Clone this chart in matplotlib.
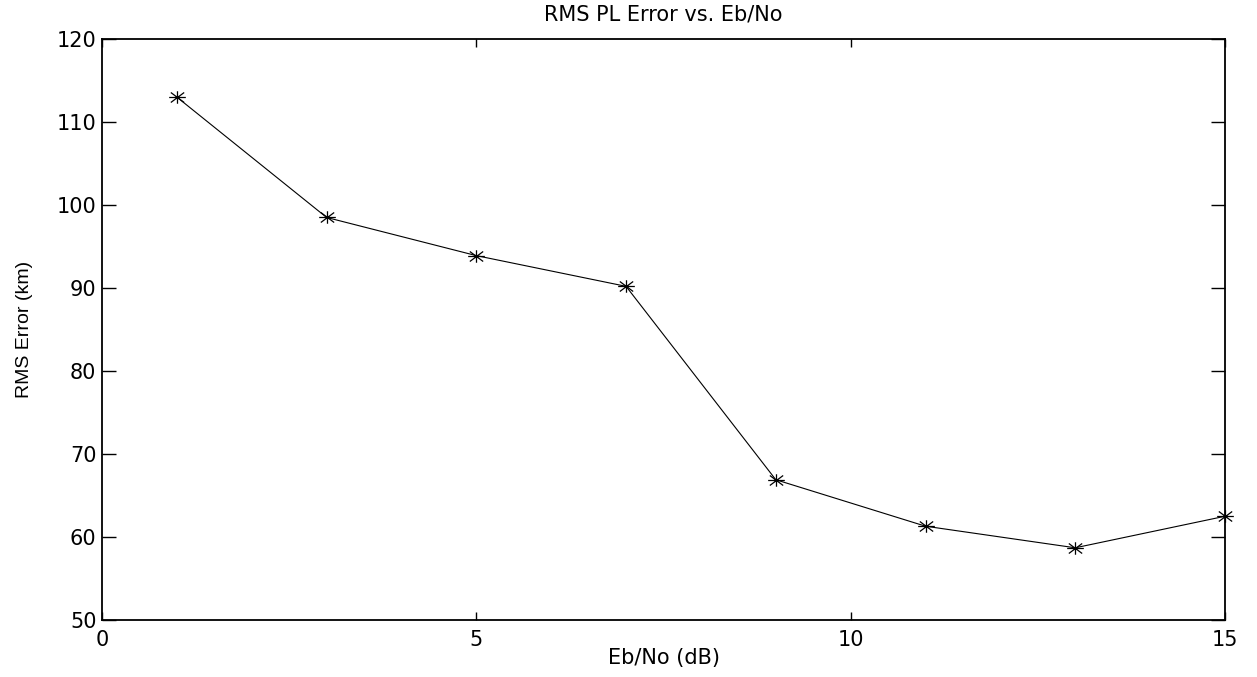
import numpy as np
import matplotlib.pyplot as plt
from matplotlib.path import Path

# Data
eb_no = [1, 3, 5, 7, 9, 11, 13, 15]
rms_err = [113.0, 98.5, 93.9, 90.2, 66.9, 61.3, 58.7, 62.5]

x_ticks = [0, 5, 10, 15]
y_ticks = [50, 60, 70, 80, 90, 100, 110, 120]

# MATLAB-like '*' marker (plus + x), a little wider than tall
w, h = 1.0, 0.75
star = Path([(-w, 0), (w, 0), (0, -h), (0, h), (-w * 0.8, -h * 0.8), (w * 0.8, h * 0.8),
             (-w * 0.8, h * 0.8), (w * 0.8, -h * 0.8)],
            [Path.MOVETO, Path.LINETO] * 4)

fig = plt.figure(figsize=(12.57, 6.77), dpi=100)
ax = fig.add_axes([102 / 1257, 1 - 620 / 677, (1225 - 102) / 1257, (620 - 39) / 677])

ax.plot(eb_no, rms_err, color='black', linewidth=0.8, marker=star, markersize=12,
        markeredgewidth=0.9, clip_on=False)

ax.set_xlim(0, 15)
ax.set_ylim(50, 120)
ax.set_xticks(x_ticks)
ax.set_yticks(y_ticks)
ax.tick_params(axis='x', direction='in', length=6, width=1.0, top=True,
               labelsize=15, pad=7)
ax.tick_params(axis='y', direction='in', length=10, width=1.0, right=True,
               labelsize=15, pad=4)
for lab in ax.get_xticklabels() + ax.get_yticklabels():
    lab.set_family('DejaVu Sans')
for s in ax.spines.values():
    s.set_linewidth(1.3)

ax.set_title("RMS PL Error vs. Eb/No", fontsize=15, family='DejaVu Sans', pad=13)
ax.set_xlabel("Eb/No (dB)", fontsize=15, family='DejaVu Sans', labelpad=-1)
ax.set_ylabel("RMS Error (km)", fontsize=14, family='Liberation Sans', labelpad=17)

fig.savefig("out.png", dpi=100)
